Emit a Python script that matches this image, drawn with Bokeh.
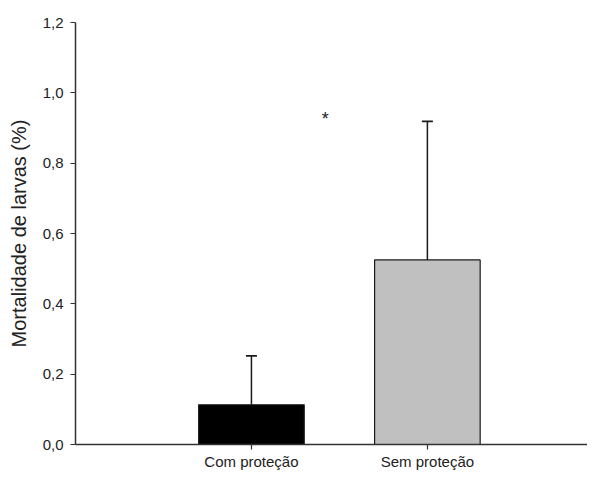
from bokeh.plotting import figure
from bokeh.models import ColumnDataSource, FixedTicker, Range1d
from bokeh.core.properties import value
from bokeh.embed import file_html
from bokeh.resources import INLINE

categories = ["Com proteção", "Sem proteção"]
means = [0.113, 0.525]
sd_upper = [0.139, 0.394]
y_ticks = [0.0, 0.2, 0.4, 0.6, 0.8, 1.0, 1.2]
y_tick_labels = ["0,0", "0,2", "0,4", "0,6", "0,8", "1,0", "1,2"]
signif_mark = "*"
signif_x = 1.42
signif_y = 0.925

bar_colors = ["#000000", "#C0C0C0"]
FONT = "Liberation Sans"

xs = [i + 1 for i in range(len(categories))]
tops = [m + s for m, s in zip(means, sd_upper)]
src = ColumnDataSource(dict(x=xs, top=means, etop=tops, color=bar_colors))

p = figure(width=587, height=472, output_backend="svg", toolbar_location=None,
           x_range=Range1d(0, 2.91), y_range=Range1d(0, 1.2),
           min_border_left=75, min_border_top=22, min_border_bottom=27,
           min_border_right=0)
p.outline_line_color = None
p.grid.visible = False
p.background_fill_color = "white"

p.vbar(x="x", top="top", bottom=0, width=0.6, fill_color="color",
       line_color="#1a1a1a", line_width=1.2, source=src)
p.segment(x0="x", y0="top", x1="x", y1="etop", line_color="#1a1a1a",
          line_width=1.5, source=src)
p.scatter(x="x", y="etop", marker="dash", size=11, line_color="#1a1a1a",
          line_width=1.8, source=src)

p.text(x=[signif_x], y=[signif_y], text=[signif_mark], text_font=value(FONT),
       text_font_size="18px", text_align="center", text_baseline="middle",
       text_color="#222222")

for ax in (p.xaxis[0], p.yaxis[0]):
    ax.axis_line_color = "#333333"
    ax.axis_line_width = 1.5
    ax.major_tick_line_color = "#333333"
    ax.major_tick_line_width = 1.2
    ax.major_tick_in = 0
    ax.major_tick_out = 5
    ax.minor_tick_line_color = None
    ax.major_label_text_font = FONT
    ax.major_label_text_font_size = "15px"
    ax.major_label_text_color = "#222222"

p.xaxis.ticker = FixedTicker(ticks=xs)
p.xaxis.major_label_overrides = {x: c for x, c in zip(xs, categories)}
p.xaxis.major_label_standoff = 3

p.yaxis.ticker = FixedTicker(ticks=y_ticks)
p.yaxis.major_label_overrides = {t: l for t, l in zip(y_ticks, y_tick_labels)}
p.yaxis.major_label_standoff = 7
p.yaxis.axis_label = "Mortalidade de larvas (%)"
p.yaxis.axis_label_text_font = FONT
p.yaxis.axis_label_text_font_size = "20px"
p.yaxis.axis_label_text_font_style = "normal"
p.yaxis.axis_label_text_color = "#222222"
p.yaxis.axis_label_standoff = 10

open("out.html", "w").write(file_html(p, INLINE))
